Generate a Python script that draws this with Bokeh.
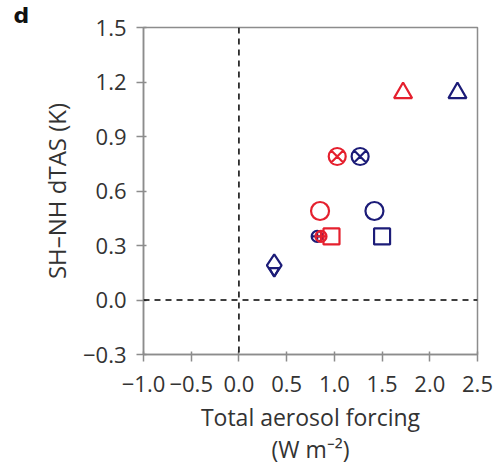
from bokeh.plotting import figure
from bokeh.models import Span, FixedTicker
from bokeh.embed import file_html
from bokeh.resources import INLINE

# Data (total aerosol forcing, SH-NH dTAS)
markers = ["triangle", "circle_x", "circle", "square", "circle_cross", "diamond", "inverted_triangle"]
red_x = [1.72, 1.03, 0.85, 0.97, 0.86, None, None]
red_y = [1.14, 0.79, 0.49, 0.35, 0.35, None, None]
blue_x = [2.29, 1.27, 1.42, 1.50, 0.82, 0.37, 0.37]
blue_y = [1.14, 0.79, 0.49, 0.35, 0.35, 0.19, 0.16]
marker_sizes = [18, 17, 18, 16, 11, 22, 10]

x_ticks = [-1.0, -0.5, 0.0, 0.5, 1.0, 1.5, 2.0, 2.5]
y_ticks = [-0.3, 0.0, 0.3, 0.6, 0.9, 1.2, 1.5]
panel_letter = "d"

RED = "#e5202e"
BLUE = "#1c1c78"
GRAY = "#8c8c8c"
TXT = "#333333"
FONT = "Open Sans"

p = figure(width=496, height=467, output_backend="svg", toolbar_location=None,
           x_range=(-1.0, 2.5), y_range=(-0.3, 1.5),
           min_border_left=143, min_border_right=19, min_border_top=0, min_border_bottom=110)
p.title.text = panel_letter
p.title.align = "left"
p.title.offset = -130
p.title.standoff = 0
p.title.text_font = "DejaVu Sans"
p.title.text_font_style = "bold"
p.title.text_font_size = "22px"
p.title.text_color = "#111111"

p.grid.visible = False
p.background_fill_color = "white"
p.border_fill_color = "white"
p.outline_line_color = GRAY
p.outline_line_width = 1.5

for ax in (p.xaxis[0], p.yaxis[0]):
    ax.axis_line_color = GRAY
    ax.axis_line_width = 1.5
    ax.major_tick_line_color = GRAY
    ax.major_tick_line_width = 1.5
    ax.minor_tick_line_color = None
    ax.major_tick_out = 7
    ax.major_tick_in = 3
    ax.major_label_text_font = FONT
    ax.major_label_text_font_size = "22px"
    ax.major_label_text_color = TXT
    ax.axis_label_text_font = FONT
    ax.axis_label_text_font_style = "normal"
    ax.axis_label_text_color = TXT

p.xaxis.axis_label_text_font_size = "23px"
p.yaxis.axis_label_text_font_size = "24px"
p.xaxis.axis_label_text_line_height = 1.0

p.xaxis.ticker = FixedTicker(ticks=x_ticks)
p.yaxis.ticker = FixedTicker(ticks=y_ticks)
p.xaxis.major_label_overrides = {t: f"{t:.1f}".replace("-", "\u2212") for t in x_ticks}
p.yaxis.major_label_overrides = {t: f"{t:.1f}".replace("-", "\u2212") for t in y_ticks}
p.xaxis.axis_label = "Total aerosol forcing\n(W m\u207b\u00b2)"
p.yaxis.axis_label = "SH\u2013NH dTAS (K)"
p.xaxis.major_label_standoff = 14
p.yaxis.major_label_standoff = 10
p.xaxis.axis_label_standoff = 6
p.yaxis.axis_label_standoff = 7

p.add_layout(Span(location=0, dimension="width", line_color="black", line_dash="6 5", line_width=1.5))
p.add_layout(Span(location=0, dimension="height", line_color="black", line_dash="6 5", line_width=1.5))

for m, rx, ry, bx, by, s in zip(markers, red_x, red_y, blue_x, blue_y, marker_sizes):
    if bx is not None:
        p.scatter([bx], [by], marker=m, size=s, fill_color=None, line_color=BLUE, line_width=2.2)
for m, rx, ry, bx, by, s in zip(markers, red_x, red_y, blue_x, blue_y, marker_sizes):
    if rx is not None:
        p.scatter([rx], [ry], marker=m, size=s, fill_color=None, line_color=RED, line_width=2.2)

open("out.html", "w").write(file_html(p, INLINE))
